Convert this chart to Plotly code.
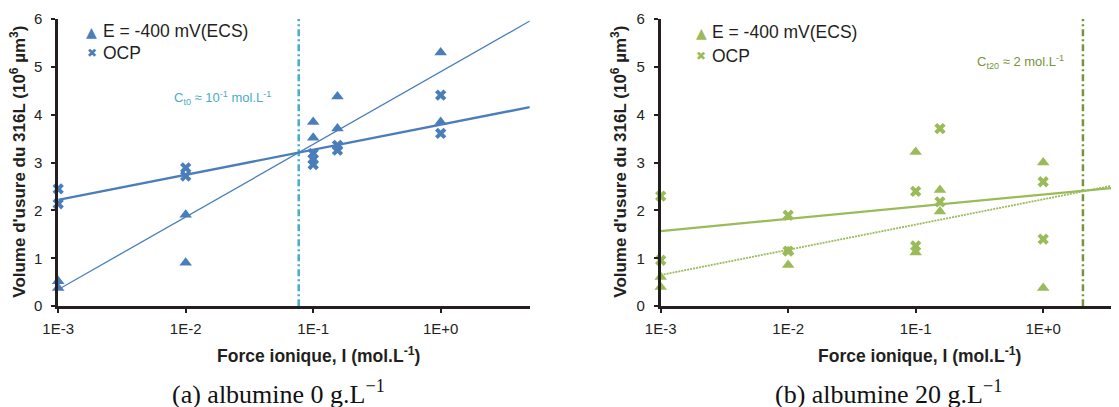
import numpy as np
import plotly.graph_objects as go

# ---------------- data ----------------
tick_vals = [1e-3, 1e-2, 1e-1, 1.0]
tick_text = ["1E-3", "1E-2", "1E-1", "1E+0"]

# (a) albumine 0 g/L
x_E_a = [1e-3, 1e-3, 1e-2, 1e-2, 1e-1, 1e-1, 0.155, 0.155, 1.0, 1.0]
y_E_a = [0.52, 0.38, 1.91, 0.91, 3.85, 3.52, 4.38, 3.71, 5.30, 3.85]
x_OCP_a = [1e-3, 1e-3, 1e-2, 1e-2, 1e-1, 1e-1, 1e-1, 0.155, 0.155, 1.0, 1.0]
y_OCP_a = [2.45, 2.14, 2.89, 2.72, 3.19, 3.07, 2.96, 3.36, 3.26, 4.41, 3.61]

# (b) albumine 20 g/L
x_E_b = [1e-3, 1e-3, 1e-2, 1e-2, 1e-1, 1e-1, 0.155, 0.155, 1.0, 1.0]
y_E_b = [0.61, 0.40, 0.86, 1.15, 3.22, 1.12, 2.43, 1.98, 3.00, 0.38]
x_OCP_b = [1e-3, 1e-3, 1e-2, 1e-2, 1e-1, 1e-1, 0.155, 0.155, 1.0, 1.0]
y_OCP_b = [2.30, 0.96, 1.90, 1.15, 2.40, 1.26, 3.71, 2.18, 2.60, 1.40]

# critical ionic strength markers
c_crit = [0.077, 2.05]
crit_labels = ["C<sub>t0</sub> ≈ 10<sup>-1</sup> mol.L<sup>-1</sup>",
               "C<sub>t20</sub> ≈ 2 mol.L<sup>-1</sup>"]
series_names = ["E = -400 mV(ECS)", "OCP"]
captions = ["(a) albumine 0 g.L<sup>−1</sup>", "(b) albumine 20 g.L<sup>−1</sup>"]
x_title = "<b>Force ionique, I (mol.L<sup>-1</sup>)</b>"
y_title = "<b>Volume d'usure du 316L (10<sup>6</sup> µm<sup>3</sup>)</b>"

# ---------------- style ----------------
W, H = 1119, 407
OFF = 8  # page body margin offset
BLUE = "#4A7EBB"
CYAN = "#4BACC6"
GREEN = "#9BBB59"
DKGREEN = "#77933C"
AXC = "#231F20"
SANS = "Liberation Sans, Arial, sans-serif"
SERIF = "Liberation Serif, Times New Roman, serif"

x_max = 5.0
fit_x = np.logspace(-3, np.log10(x_max), 60)


def logfit(xs, ys):
    a, b = np.polyfit(np.log10(xs), ys, 1)
    return a * np.log10(fit_x) + b


def px(xp):
    return (xp - OFF) / W


def py(yp):
    return 1 - (yp - OFF) / H


fig = go.Figure()

panels = [
    dict(xa="x", ya="y", xE=x_E_a, yE=y_E_a, xO=x_OCP_a, yO=y_OCP_a,
         mc=BLUE, vc=CYAN, e_dash="solid", e_w=1.3, o_w=2.4),
    dict(xa="x2", ya="y2", xE=x_E_b, yE=y_E_b, xO=x_OCP_b, yO=y_OCP_b,
         mc=GREEN, vc=DKGREEN, e_dash="2px,1px", e_w=1.8, o_w=2.2),
]

for i, p in enumerate(panels):
    # vertical critical line
    fig.add_trace(go.Scatter(x=[c_crit[i], c_crit[i]], y=[0, 6], mode="lines",
                             xaxis=p["xa"], yaxis=p["ya"], showlegend=False,
                             line=dict(color=p["vc"], width=2.5, dash="7px,3px,2px,3px")))
    # trendlines
    fig.add_trace(go.Scatter(x=fit_x, y=logfit(p["xE"], p["yE"]), mode="lines",
                             xaxis=p["xa"], yaxis=p["ya"], showlegend=False,
                             line=dict(color=p["mc"], width=p["e_w"], dash=p["e_dash"])))
    fig.add_trace(go.Scatter(x=fit_x, y=logfit(p["xO"], p["yO"]), mode="lines",
                             xaxis=p["xa"], yaxis=p["ya"], showlegend=False,
                             line=dict(color=p["mc"], width=p["o_w"])))
    # markers
    fig.add_trace(go.Scatter(x=p["xE"], y=p["yE"], mode="markers", name=series_names[0],
                             xaxis=p["xa"], yaxis=p["ya"], showlegend=False, cliponaxis=False,
                             marker=dict(symbol="triangle-up", size=11, color=p["mc"])))
    fig.add_trace(go.Scatter(x=p["xO"], y=p["yO"], mode="markers", name=series_names[1],
                             xaxis=p["xa"], yaxis=p["ya"], showlegend=False, cliponaxis=False,
                             marker=dict(symbol="x", size=10, color=p["mc"],
                                         line=dict(width=0))))

ax_common = dict(type="log", showline=True, linecolor=AXC, linewidth=2.5,
                 ticks="outside", ticklen=4, tickwidth=2, tickcolor=AXC,
                 tickvals=tick_vals, ticktext=tick_text, showgrid=False, zeroline=False,
                 automargin=False,
                 tickfont=dict(family=SANS, size=15, color=AXC), ticklabelstandoff=3)
ay_common = dict(range=[0, 6], showline=True, linecolor=AXC, linewidth=2.5,
                 ticks="outside", ticklen=4, tickwidth=2, tickcolor=AXC,
                 tickvals=[0, 1, 2, 3, 4, 5, 6], showgrid=False, zeroline=False,
                 automargin=False,
                 tickfont=dict(family=SANS, size=15, color=AXC), ticklabelstandoff=6)

left0, left1 = 58.2, 529.8
right0 = 660.7
y_dom = [py(306.2), py(19)]
ppd = (left1 - left0) / (np.log10(x_max) + 3)
right_max = -3 + (W + OFF - right0) / ppd

fig.update_layout(
    template="none",
    width=W, height=H, margin=dict(l=0, r=0, t=0, b=0, pad=0, autoexpand=False),
    paper_bgcolor="white", plot_bgcolor="white", showlegend=False,
    xaxis=dict(ax_common, domain=[px(left0), px(left1)], range=[-3, np.log10(x_max)], anchor="y"),
    yaxis=dict(ay_common, domain=y_dom, anchor="x"),
    xaxis2=dict(ax_common, domain=[px(right0), 1.0], range=[-3, right_max], anchor="y2"),
    yaxis2=dict(ay_common, domain=y_dom, anchor="x2"),
)

ann = []
# legends (glyph + label)
legend_pos = [
    dict(mx=91.7, tx=100.5, y1=30.7, y2=53.3, c=BLUE),
    dict(mx=701.0, tx=710.0, y1=32.3, y2=56.0, c=GREEN),
]
for lp in legend_pos:
    ann.append(dict(x=px(lp["mx"]), y=py(lp["y1"] + 1), text="▲", showarrow=False,
                    xref="paper", yref="paper", xanchor="center", yanchor="middle",
                    font=dict(family="DejaVu Sans", size=14, color=lp["c"])))
    ann.append(dict(x=px(lp["mx"]), y=py(lp["y2"]), text="✖", showarrow=False,
                    xref="paper", yref="paper", xanchor="center", yanchor="middle",
                    font=dict(family="DejaVu Sans", size=12, color=lp["c"])))
    ann.append(dict(x=px(lp["tx"]), y=py(lp["y1"]), text=series_names[0], showarrow=False,
                    xref="paper", yref="paper", xanchor="left", yanchor="middle",
                    font=dict(family=SANS, size=17.5, color=AXC)))
    ann.append(dict(x=px(lp["tx"]), y=py(lp["y2"]), text=series_names[1], showarrow=False,
                    xref="paper", yref="paper", xanchor="left", yanchor="middle",
                    font=dict(family=SANS, size=17.5, color=AXC)))

# critical labels
ann.append(dict(x=px(222), y=py(98.3), text=crit_labels[0], showarrow=False,
                xref="paper", yref="paper", xanchor="center", yanchor="middle",
                font=dict(family=SANS, size=13, color=CYAN)))
ann.append(dict(x=px(1020), y=py(61.7), text=crit_labels[1], showarrow=False,
                xref="paper", yref="paper", xanchor="center", yanchor="middle",
                font=dict(family=SANS, size=13, color=DKGREEN)))

# axis titles
for xc in (18, 619):
    ann.append(dict(x=px(xc), y=py(161.7), text=y_title, textangle=-90, showarrow=False,
                    xref="paper", yref="paper", xanchor="center", yanchor="middle",
                    font=dict(family=SANS, size=17, color=AXC)))
for xc in (318, 919):
    ann.append(dict(x=px(xc), y=py(355), text=x_title, showarrow=False,
                    xref="paper", yref="paper", xanchor="center", yanchor="middle",
                    font=dict(family=SANS, size=17.5, color=AXC)))
# captions
for xc, cap in zip((278, 888), captions):
    ann.append(dict(x=px(xc), y=py(392), text=cap, showarrow=False,
                    xref="paper", yref="paper", xanchor="center", yanchor="middle",
                    font=dict(family=SERIF, size=26, color="#111111")))

fig.update_layout(annotations=ann)
fig.write_html("out.html")
